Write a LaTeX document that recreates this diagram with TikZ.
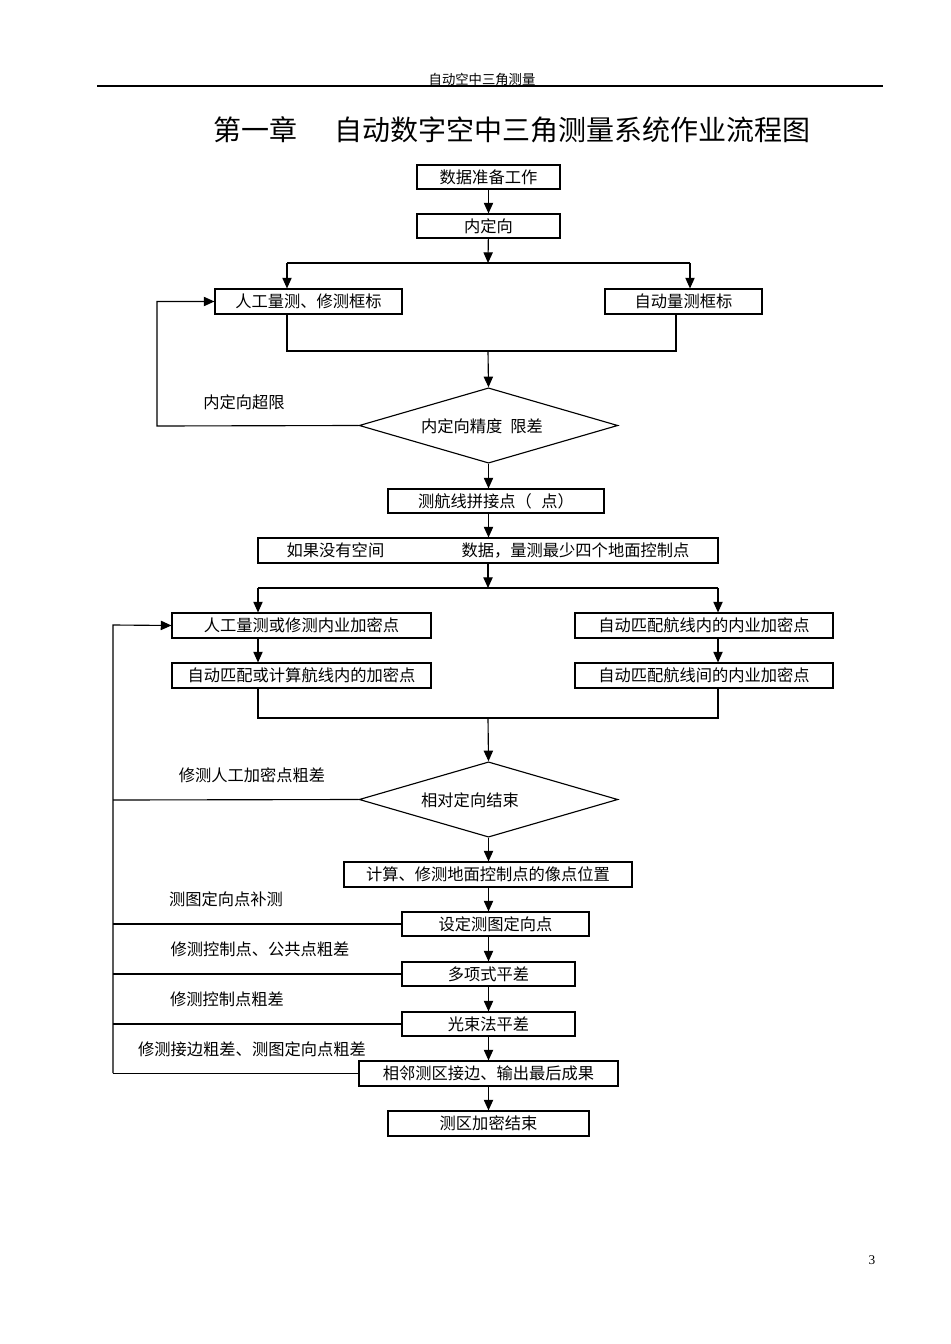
\documentclass[tikz,border=0pt]{standalone}
\usepackage{fontspec}
\setmainfont{Liberation Serif}
\newfontfamily\cjk{Noto Sans CJK SC}
\usetikzlibrary{arrows.meta,shapes.geometric,shadows}
\newcommand\mybox[6]{\node[box, minimum width={(#4-#2)*0.75pt}, minimum height={(#5-#3)*0.75pt}] (#1) at ({(#2+#4)/2},{(#3+#5)/2}) {#6};}
\begin{document}
\begin{tikzpicture}[x=0.75pt,y=-0.75pt, font=\cjk\fontsize{12.2}{14}\selectfont, line width=0.85pt,
  box/.style={draw, fill=white, inner sep=0pt, general shadow={fill=black, shadow xshift=0.9pt, shadow yshift=-0.9pt}},
  dia/.style={draw, diamond, inner sep=0pt, minimum width=194pt, minimum height=56.5pt},
  arr/.style={-{Triangle[length=8pt,width=7pt]}},
  lbl/.style={inner sep=0pt}]
\useasboundingbox (0,0) rectangle (950,1344);
% header
\node[lbl, font=\cjk\fontsize{10}{12}\selectfont] (hdr) at (482,79) {自动空中三角测量};
\coordinate (hl) at (97,86); \coordinate (hr) at (883,86);
\draw[line width=1.5pt] (hl) -- (hr);
\node[lbl, font=\cjk\fontsize{21}{24}\selectfont] (t1) at (255,130) {第一章};
\node[lbl, font=\cjk\fontsize{21}{24}\selectfont] (t2) at (572,130) {自动数字空中三角测量系统作业流程图};
% boxes
\mybox{b1}{417}{165}{560}{189}{数据准备工作}
\mybox{b2}{417}{214}{560}{238}{内定向}
\mybox{b3}{215}{289}{402}{314}{人工量测、修测框标}
\mybox{b4}{605}{289}{762}{314}{自动量测框标}
\node[dia] (d1) at (488.5,425.5) {};
\node[lbl] (d1t) at (482,426) {内定向精度\hspace{6pt}限差};
\mybox{b5}{388}{489}{604}{513}{测航线拼接点（\hspace{7pt}点）}
\mybox{b6}{258}{538}{718}{563}{如果没有空间\hspace{58pt}数据，量测最少四个地面控制点}
\mybox{b7}{172}{613}{431}{638}{人工量测或修测内业加密点}
\mybox{b8}{575}{613}{833}{638}{自动匹配航线内的内业加密点}
\mybox{b9}{172}{663}{431}{688}{自动匹配或计算航线内的加密点}
\mybox{b10}{575}{663}{833}{688}{自动匹配航线间的内业加密点}
\node[dia] (d2) at (488.5,799.5) {};
\node[lbl] (d2t) at (470,800) {相对定向结束};
\mybox{b11}{344}{862}{632}{887}{计算、修测地面控制点的像点位置}
\mybox{b12}{402}{912}{589}{936}{设定测图定向点}
\mybox{b13}{402}{962}{575}{986}{多项式平差}
\mybox{b14}{402}{1012}{575}{1036}{光束法平差}
\mybox{b15}{359}{1061}{618}{1086}{相邻测区接边、输出最后成果}
\mybox{b16}{388}{1111}{589}{1136}{测区加密结束}
% labels
\node[lbl] (l1) at (244,402) {内定向超限};
\node[lbl] (l2) at (252,775) {修测人工加密点粗差};
\node[lbl] (l3) at (226,899) {测图定向点补测};
\node[lbl] (l4) at (260,949) {修测控制点、公共点粗差};
\node[lbl] (l5) at (227,999) {修测控制点粗差};
\node[lbl] (l6) at (252,1049) {修测接边粗差、测图定向点粗差};
\node[lbl, font=\fontsize{10}{12}\selectfont] (pg) at (872,1260) {3};
% coordinates
\coordinate (s1) at (488,263); \coordinate (s1L) at (287,263); \coordinate (s1R) at (690,263);
\coordinate (m1) at (488,351); \coordinate (m1L) at (287,351); \coordinate (m1R) at (676,351);
\coordinate (s2) at (488,588); \coordinate (s2L) at (258,588); \coordinate (s2R) at (718,588);
\coordinate (m2) at (488,718); \coordinate (m2L) at (258,718); \coordinate (m2R) at (718,718);
\coordinate (L1) at (157,426);
\coordinate (L2) at (113,800);
\coordinate (L2t) at (113,625);
\coordinate (L2b) at (113,1073);
% connectors
\draw[arr] (b1) -- (b2);
\draw[arr] (b2) -- (s1);
\draw (s1L) -- (s1R);
\draw[arr] (s1L) -- (s1L |- b3.north);
\draw[arr] (s1R) -- (s1R |- b4.north);
\draw (m1L |- b3.south) -- (m1L) -- (m1R) -- (m1R |- b4.south);
\draw[arr] (m1) -- (d1.north);
\draw[arr] (d1.west) -- (L1) |- (b3.west);
\draw[arr] (d1.south) -- (d1.south |- b5.north);
\draw[arr] (d1.south |- b5.south) -- (d1.south |- b6.north);
\draw[arr] (b6.south -| s2) -- (s2);
\draw (s2L) -- (s2R);
\draw[arr] (s2L) -- (s2L |- b7.north);
\draw[arr] (s2R) -- (s2R |- b8.north);
\draw[arr] (s2L |- b7.south) -- (s2L |- b9.north);
\draw[arr] (s2R |- b8.south) -- (s2R |- b10.north);
\draw (m2L |- b9.south) -- (m2L) -- (m2R) -- (m2R |- b10.south);
\draw[arr] (m2) -- (d2.north);
\draw[arr] (d2.south) -- (d2.south |- b11.north);
\draw[arr] (d2.south |- b11.south) -- (d2.south |- b12.north);
\draw[arr] (d2.south |- b12.south) -- (d2.south |- b13.north);
\draw[arr] (d2.south |- b13.south) -- (d2.south |- b14.north);
\draw[arr] (d2.south |- b14.south) -- (d2.south |- b15.north);
\draw[arr] (b15) -- (b16);
\draw (d2.west) -- (L2);
\draw[arr] (L2b) -- (L2t) -- (b7.west);
\draw (b12.west) -- (b12.west -| L2);
\draw (b13.west) -- (b13.west -| L2);
\draw (b14.west) -- (b14.west -| L2);
\draw (b15.west) -- (b15.west -| L2);
\end{tikzpicture}
\end{document}
